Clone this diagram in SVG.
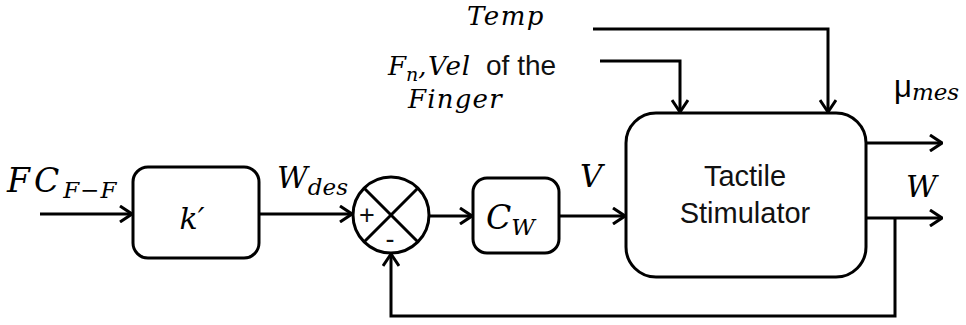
<svg xmlns="http://www.w3.org/2000/svg" width="966" height="325" viewBox="0 0 966 325">
<style>
.ln{fill:none;stroke:#000;stroke-width:3;}
.bx{fill:#fff;stroke:#000;stroke-width:3;}
.m{font-family:"DejaVu Serif","Liberation Serif",serif;font-style:italic;fill:#000;}
.s{font-family:"Liberation Sans",Arial,sans-serif;fill:#111;}
</style>
<defs>
<marker id="ah" viewBox="0 0 14 18" refX="13" refY="9" markerWidth="14" markerHeight="18" markerUnits="userSpaceOnUse" orient="auto">
<path d="M1,1 L13,9 L1,17" fill="none" stroke="#000" stroke-width="3"/>
</marker>
</defs>
<rect width="966" height="325" fill="#fff"/>
<g id="connectors">
<line class="ln" x1="40" y1="214" x2="132" y2="214" marker-end="url(#ah)"/>
<line class="ln" x1="259" y1="214" x2="352" y2="214" marker-end="url(#ah)"/>
<line class="ln" x1="429" y1="216" x2="472" y2="216" marker-end="url(#ah)"/>
<line class="ln" x1="559" y1="216" x2="625" y2="216" marker-end="url(#ah)"/>
<polyline class="ln" points="593,29 828,29 828,112" marker-end="url(#ah)"/>
<polyline class="ln" points="600,61 680,61 680,112" marker-end="url(#ah)"/>
<line class="ln" x1="866" y1="143" x2="942" y2="143" marker-end="url(#ah)"/>
<line class="ln" x1="866" y1="218" x2="942" y2="218" marker-end="url(#ah)"/>
<polyline class="ln" points="895,218 895,316 391,316 391,254" marker-end="url(#ah)"/>
</g>
<g id="k-block">
<rect class="bx" x="133" y="167" width="126" height="91" rx="15"/>
<text class="m" x="192" y="229" font-size="30" text-anchor="middle">k′</text>
</g>
<g id="sum">
<circle class="bx" cx="391" cy="215" r="38"/>
<line class="ln" x1="364" y1="188" x2="418" y2="242"/>
<line class="ln" x1="418" y1="188" x2="364" y2="242"/>
<text class="s" x="367" y="224" font-size="27" text-anchor="middle">+</text>
<text class="s" x="390" y="248" font-size="27" text-anchor="middle">-</text>
</g>
<g id="cw-block">
<rect class="bx" x="473" y="178" width="86" height="75" rx="14"/>
<text class="m" x="486" y="229" font-size="33">C<tspan font-size="23" dy="6">W</tspan></text>
</g>
<g id="tactile-stimulator">
<rect class="bx" x="626" y="113" width="240" height="164" rx="30"/>
<text class="s" x="745" y="186" font-size="29" text-anchor="middle">Tactile</text>
<text class="s" x="745" y="223" font-size="29" text-anchor="middle">Stimulator</text>
</g>
<g id="labels">
<text class="m" x="7" y="192" font-size="33" letter-spacing="4">FC<tspan font-size="23" dy="6" letter-spacing="1">F−F</tspan></text>
<text class="m" x="277" y="188" font-size="30">W<tspan font-size="23" dy="7">des</tspan></text>
<text class="m" x="580" y="187" font-size="31">V</text>
<text class="m" x="467" y="25" font-size="26" letter-spacing="1.5">Temp</text>
<text class="m" x="388" y="75" font-size="26">F<tspan font-size="19" dy="6">n</tspan><tspan dy="-6">,</tspan></text>
<text class="m" x="428" y="75" font-size="26" letter-spacing="1">Vel</text>
<text class="s" x="486" y="75" font-size="28">of the</text>
<text class="m" x="408" y="108" font-size="26" letter-spacing="1.2">Finger</text>
<text x="894" y="97" font-size="31"><tspan font-family="Liberation Sans,sans-serif">μ</tspan><tspan class="m" font-size="23" dy="3">mes</tspan></text>
<text class="m" x="906" y="197" font-size="30">W</text>
</g>
</svg>
